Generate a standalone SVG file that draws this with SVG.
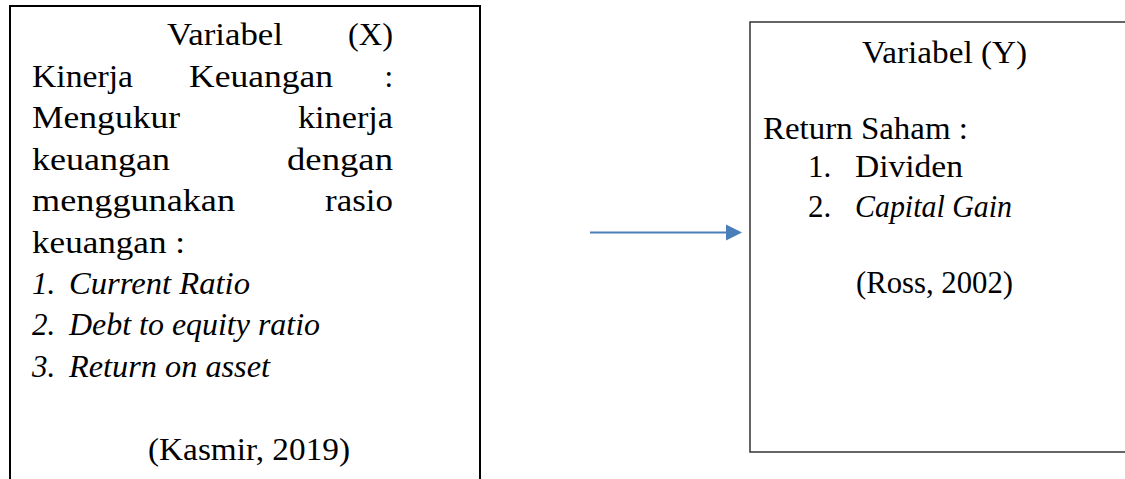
<svg xmlns="http://www.w3.org/2000/svg" width="1125" height="479" viewBox="0 0 1125 479">
<style>
text{font-family:"Liberation Serif","Times New Roman",serif;font-size:31px;fill:#000}
.i{font-style:italic}
.e{text-anchor:end}
</style>
<rect width="1125" height="479" fill="#fff"/>
<g id="node-x">
<rect x="10" y="6" width="470" height="490" fill="none" stroke="#000" stroke-width="2"/>
<text x="167" y="45" textLength="116" lengthAdjust="spacingAndGlyphs">Variabel</text>
<text x="348" y="45" textLength="45" lengthAdjust="spacingAndGlyphs">(X)</text>
<text x="32" y="87" textLength="101" lengthAdjust="spacingAndGlyphs">Kinerja</text>
<text x="189" y="87" textLength="144" lengthAdjust="spacingAndGlyphs">Keuangan</text>
<text x="393" y="87" class="e">:</text>
<text x="32" y="128" textLength="148" lengthAdjust="spacingAndGlyphs">Mengukur</text>
<text x="298" y="128" textLength="95" lengthAdjust="spacingAndGlyphs">kinerja</text>
<text x="32" y="170" textLength="138" lengthAdjust="spacingAndGlyphs">keuangan</text>
<text x="287" y="170" textLength="106" lengthAdjust="spacingAndGlyphs">dengan</text>
<text x="32" y="211" textLength="203" lengthAdjust="spacingAndGlyphs">menggunakan</text>
<text x="325" y="211" textLength="68" lengthAdjust="spacingAndGlyphs">rasio</text>
<text x="32" y="253" textLength="153" lengthAdjust="spacingAndGlyphs">keuangan :</text>
<text x="32" y="294" class="i">1.</text>
<text x="69" y="294" class="i" textLength="181" lengthAdjust="spacingAndGlyphs">Current Ratio</text>
<text x="32" y="335" class="i">2.</text>
<text x="69" y="335" class="i" textLength="251" lengthAdjust="spacingAndGlyphs">Debt to equity ratio</text>
<text x="32" y="377" class="i">3.</text>
<text x="69" y="377" class="i" textLength="201" lengthAdjust="spacingAndGlyphs">Return on asset</text>
<text x="148" y="460" textLength="202" lengthAdjust="spacingAndGlyphs">(Kasmir, 2019)</text>
</g>
<g id="node-y">
<rect x="750" y="22" width="420" height="430" fill="none" stroke="#333" stroke-width="1.5"/>
<text x="862" y="63" textLength="165" lengthAdjust="spacingAndGlyphs">Variabel (Y)</text>
<text x="763" y="139" textLength="205" lengthAdjust="spacingAndGlyphs">Return Saham :</text>
<text x="808" y="177">1.</text>
<text x="855" y="177" textLength="108" lengthAdjust="spacingAndGlyphs">Dividen</text>
<text x="808" y="217">2.</text>
<text x="855" y="217" class="i" textLength="157" lengthAdjust="spacingAndGlyphs">Capital Gain</text>
<text x="856" y="293" textLength="157" lengthAdjust="spacingAndGlyphs">(Ross, 2002)</text>
</g>
<g id="connectors">
<line x1="590" y1="232.5" x2="728" y2="232.5" stroke="#4A7EBB" stroke-width="2"/>
<polygon points="726,224.5 742,232.5 726,240.5" fill="#4A7EBB"/>
</g>
</svg>
